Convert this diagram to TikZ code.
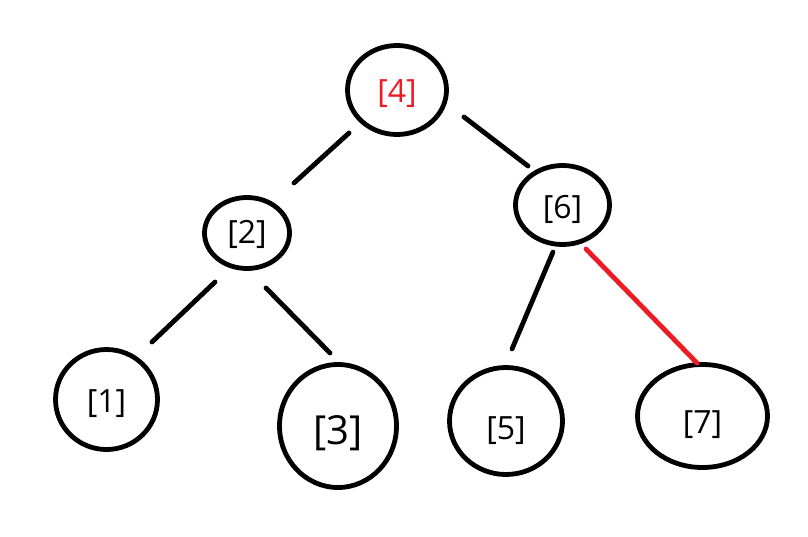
\documentclass[tikz,border=0pt]{standalone}
\usepackage{fontspec}
\setmainfont{Open Sans}
\usetikzlibrary{shapes.geometric,calc}
\definecolor{paintred}{RGB}{237,28,36}
\begin{document}
\begin{tikzpicture}
  [x=1pt,y=-1pt,line width=4.8pt,line cap=round,
   every node/.style={ellipse,draw=black,inner sep=0pt,outer sep=0pt,
     font=\fontsize{32}{38}\selectfont,text height=25pt,text depth=0pt}]
  \useasboundingbox (0,0) rectangle (808,536);
  \node[minimum width=99pt,minimum height=89pt,text=paintred,text height=24pt] (n4) at (397,90) {[4]};
  \node[minimum width=85pt,minimum height=71pt,text height=20pt] (n2) at (247,233) {[2]};
  \node[minimum width=94pt,minimum height=79pt,text height=26pt] (n6) at (562.5,205) {[6]};
  \node[minimum width=102pt,minimum height=100pt] (n1) at (106.5,399.5) {[1]};
  \node[minimum width=117pt,minimum height=123pt,
        font=\fontsize{40}{46}\selectfont,text height=36pt] (n3) at (338,426) {[3]};
  \node[minimum width=113pt,minimum height=107pt,text height=36pt] (n5) at (506,421) {[5]};
  \node[minimum width=130pt,minimum height=103pt,text height=34pt] (n7) at (702.5,416) {[7]};

  \foreach \from/\ax/\ay/\to/\bx/\by in {n4/-48/43/n2/47/-50,n4/67/27/n6/-34.5/-39,
      n2/-32/49/n1/45.5/-57.5,n2/19/55/n3/-8/-73,n6/-9.5/47/n5/6/-72}
    \draw ($(\from)+(\ax,\ay)$) -- ($(\to)+(\bx,\by)$);

  % arista roja hacia [7]
  \draw[paintred] ($(n6)+(23.5,44)$) -- ($(n7)+(-5.5,-53)$);

\end{tikzpicture}
\end{document}
